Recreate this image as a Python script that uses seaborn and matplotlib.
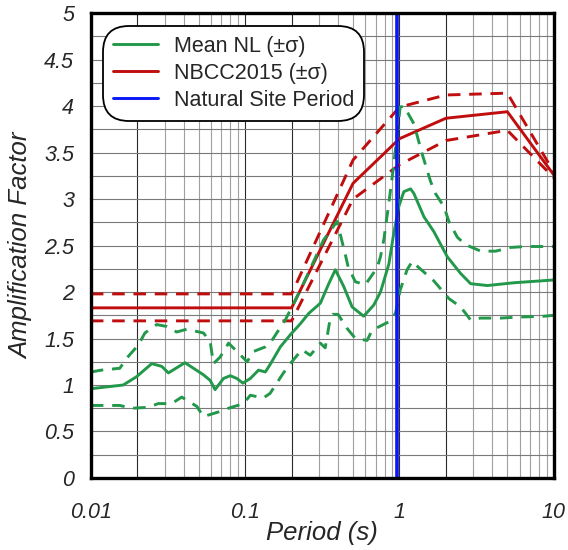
import numpy as np
import pandas as pd
import matplotlib
matplotlib.use("Agg")
import matplotlib.pyplot as plt
from matplotlib.lines import Line2D
from matplotlib.ticker import FixedLocator, NullFormatter
import seaborn as sns

# ---------------- data ----------------
# Mean NL amplification
nl_period = [0.01, 0.0162, 0.0198, 0.0248, 0.0288, 0.0318, 0.0407, 0.0536, 0.0593, 0.0638,
             0.0723, 0.080, 0.0884, 0.0966, 0.108, 0.122, 0.135, 0.145, 0.169, 0.196,
             0.228, 0.258, 0.307, 0.348, 0.384, 0.435, 0.493, 0.586, 0.681, 0.753,
             0.853, 0.918, 0.989, 1.067, 1.18, 1.24, 1.44, 1.67, 2.04, 2.49,
             2.89, 3.71, 5.52, 10.0]
nl_mean = [0.96, 1.00, 1.09, 1.23, 1.20, 1.13, 1.24, 1.11, 1.05, 0.95,
           1.07, 1.10, 1.07, 1.02, 1.07, 1.16, 1.14, 1.22, 1.41, 1.54,
           1.66, 1.77, 1.88, 2.09, 2.24, 2.06, 1.84, 1.74, 1.86, 2.00,
           2.30, 2.63, 2.92, 3.08, 3.11, 3.06, 2.81, 2.65, 2.38, 2.20,
           2.09, 2.07, 2.10, 2.13]

# Mean NL + sigma
nlu_period = [0.01, 0.0117, 0.0154, 0.0171, 0.0203, 0.0224, 0.0267, 0.031, 0.036, 0.0418,
              0.0536, 0.0593, 0.0622, 0.0688, 0.078, 0.0861, 0.103, 0.113, 0.135, 0.145,
              0.182, 0.228, 0.264, 0.322, 0.394, 0.446, 0.465, 0.518, 0.601, 0.716,
              0.753, 0.791, 0.852, 0.918, 1.01, 1.07, 1.24, 1.40, 1.59, 1.71,
              1.94, 2.09, 2.37, 2.68, 3.36, 4.2, 5.26, 6.58, 10.0]
nl_upper = [1.14, 1.16, 1.18, 1.29, 1.43, 1.56, 1.65, 1.63, 1.57, 1.60,
            1.56, 1.47, 1.23, 1.30, 1.45, 1.38, 1.25, 1.36, 1.41, 1.45,
            1.70, 2.02, 2.25, 2.56, 2.76, 2.40, 2.27, 2.11, 2.08, 2.26,
            2.38, 2.56, 2.95, 3.37, 3.99, 4.00, 3.81, 3.49, 3.19, 3.06,
            2.92, 2.76, 2.59, 2.51, 2.44, 2.44, 2.48, 2.49, 2.49]

# Mean NL - sigma
nll_period = [0.01, 0.0117, 0.0154, 0.0184, 0.0236, 0.0273, 0.0334, 0.0388, 0.0486, 0.0536,
              0.0671, 0.078, 0.0975, 0.108, 0.131, 0.145, 0.177, 0.196, 0.233, 0.264,
              0.307, 0.330, 0.356, 0.37, 0.40, 0.457, 0.518, 0.617, 0.665, 0.853,
              0.942, 1.01, 1.12, 1.21, 1.30, 1.67, 2.09, 2.49, 2.89, 3.36,
              4.53, 5.81, 8.65, 10.0]
nl_lower = [0.78, 0.78, 0.78, 0.75, 0.76, 0.80, 0.80, 0.87, 0.77, 0.66,
            0.71, 0.75, 0.80, 0.89, 0.86, 0.91, 1.13, 1.23, 1.38, 1.32,
            1.45, 1.40, 1.72, 1.76, 1.76, 1.61, 1.50, 1.48, 1.59, 1.68,
            1.77, 2.02, 2.24, 2.33, 2.28, 2.12, 1.93, 1.84, 1.70, 1.72,
            1.72, 1.73, 1.74, 1.75]

# NBCC2015 amplification
nbcc_period = [0.01, 0.2, 0.5, 1.0, 2.0, 5.0, 10.0]
nbcc_mean = [1.83, 1.83, 3.17, 3.65, 3.87, 3.94, 3.26]
nbcc_upper = [1.98, 1.98, 3.42, 3.99, 4.12, 4.14, 3.29]
nbcc_lower = [1.69, 1.69, 3.00, 3.37, 3.63, 3.74, 3.23]

site_period = 0.97

legend_labels = ["Mean NL (\u00b1\u03c3)", "NBCC2015 (\u00b1\u03c3)", "Natural Site Period"]
x_tick_values = [0.01, 0.1, 1, 10]
x_tick_labels = ["0.01", "0.1", "1", "10"]
y_tick_values = [0, 0.5, 1, 1.5, 2, 2.5, 3, 3.5, 4, 4.5, 5]
y_tick_labels = ["0", "0.5", "1", "1.5", "2", "2.5", "3", "3.5", "4", "4.5", "5"]

# ---------------- style ----------------
sns.set_style("white")
plt.rcParams["font.family"] = ["Liberation Sans", "DejaVu Sans"]

GREEN = "#22984A"
RED = "#C00D0D"
BLUE = "#0A18F5"
DASH = (0, (4.3, 3.0))

fig = plt.figure(figsize=(5.68, 5.5), dpi=100)
ax = fig.add_axes([0.160, 0.131, 0.815, 0.845])
ax.set_xscale("log")

def draw(xv, yv, color, lw, ls):
    df = pd.DataFrame({"Period": xv, "Amp": yv})
    sns.lineplot(data=df, x="Period", y="Amp", ax=ax, color=color, lw=lw,
                 linestyle=ls, estimator=None, sort=False, zorder=3)

draw(nbcc_period, nbcc_upper, RED, 2.1, DASH)
draw(nbcc_period, nbcc_lower, RED, 2.1, DASH)
draw(nbcc_period, nbcc_mean, RED, 2.1, "-")
draw(nlu_period, nl_upper, GREEN, 2.1, DASH)
draw(nll_period, nl_lower, GREEN, 2.1, DASH)
draw(nl_period, nl_mean, GREEN, 2.1, "-")
ax.axvline(site_period, color=BLUE, lw=2.6, zorder=4)

ax.set_xlim(0.01, 10)
ax.set_ylim(0, 5)

# ticks
ax.xaxis.set_major_locator(FixedLocator(x_tick_values))
ax.set_xticklabels(x_tick_labels)
decades = [0.01, 0.1, 1]
minor_x = [m * d for d in decades for m in range(2, 10)]
ax.xaxis.set_minor_locator(FixedLocator(minor_x))
ax.xaxis.set_minor_formatter(NullFormatter())
ax.set_yticks(y_tick_values)
ax.set_yticklabels(y_tick_labels)
ax.yaxis.set_minor_locator(FixedLocator([v + 0.25 for v in y_tick_values[:-1]]))

# grid
ax.grid(False)
for d in decades:
    for m in range(2, 10):
        ax.axvline(m * d, color="#2a2a2a" if m == 2 else "#a0a0a0", lw=0.8, zorder=1)
for v in x_tick_values:
    ax.axvline(v, color="#2a2a2a", lw=0.8, zorder=1)
for i in range(1, 20):
    ax.axhline(i * 0.25, color="#7a7a7a", lw=0.8, zorder=1)

for s in ax.spines.values():
    s.set_linewidth(2.4)
    s.set_color("black")
    s.set_zorder(5)

ax.tick_params(axis="x", which="major", direction="in", length=6, width=2, pad=17,
               labelsize=15.5)
ax.tick_params(axis="x", which="minor", direction="in", length=4, width=1.6)
ax.tick_params(axis="y", which="both", direction="in", length=8, width=2, pad=12,
               labelsize=15.5)
for lab in ax.get_xticklabels() + ax.get_yticklabels():
    lab.set_style("italic")

ax.set_xlabel("Period (s)", fontsize=18.5, style="italic", labelpad=-1)
ax.set_ylabel("Amplification Factor", fontsize=18.5, style="italic", labelpad=8)

handles = [Line2D([0], [0], color=GREEN, lw=2.1),
           Line2D([0], [0], color=RED, lw=2.1),
           Line2D([0], [0], color=BLUE, lw=2.1)]
leg = ax.legend(handles, legend_labels, loc="upper left",
                bbox_to_anchor=(0.026, 0.972), borderaxespad=0,
                fontsize=15.5, handlelength=2.1, handletextpad=0.75,
                labelspacing=0.28, borderpad=0.45, frameon=True, fancybox=True,
                framealpha=1, edgecolor="black")
leg.get_frame().set_linewidth(1.3)
leg.get_frame().set_boxstyle("round", pad=0, rounding_size=1.2)
leg.set_zorder(6)

fig.savefig("out.png", dpi=100)
